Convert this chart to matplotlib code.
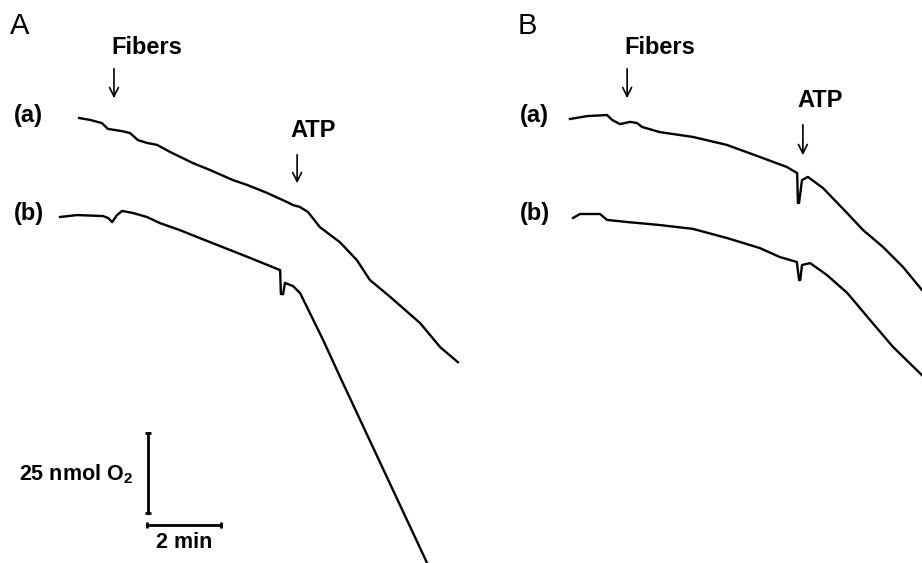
import numpy as np
import matplotlib.pyplot as plt

plt.rcParams['font.family'] = ['Liberation Sans', 'DejaVu Sans']

# oxygen traces: time since start of trace (min), O2 change from start (nmol)
a_time_A = [0, 0.30, 0.62, 0.70, 0.78, 1.16, 1.38, 1.59, 1.84, 2.11, 2.46, 3.08,
            3.54, 4.16, 4.54, 5.08, 5.62, 5.78, 5.97, 6.19, 6.51, 7.05, 7.51,
            7.86, 8.41, 9.22, 9.76, 10.24]
a_o2_A = [0, -0.6, -1.6, -2.5, -3.4, -4.1, -4.7, -6.9, -7.8, -8.4, -10.6, -14.1,
          -16.25, -19.4, -20.9, -23.4, -26.25, -27.2, -27.8, -29.4, -34.1, -38.8,
          -44.4, -50.6, -55.9, -64.1, -71.6, -76.3]

b_time_A = [0, 0.46, 1.16, 1.30, 1.41, 1.54, 1.68, 1.97, 2.35, 2.70, 3.24, 3.78,
            5.14, 5.95, 5.97, 6.03, 6.08, 6.30, 6.49, 7.11, 7.57, 9.92]
b_o2_A = [0, 0.6, 0.3, -0.3, -1.6, 0.6, 1.9, 1.25, 0, -1.9, -4.1, -6.6,
          -12.8, -16.6, -24.1, -24.1, -20.6, -21.6, -23.8, -38.4, -50.0, -108.1]

a_time_B = [0, 0.46, 1.0, 1.14, 1.35, 1.62, 1.81, 1.95, 2.43, 3.32, 4.24, 5.14,
            5.86, 6.14, 6.16, 6.19, 6.27, 6.43, 6.84, 7.49, 7.92, 8.46, 9.0, 9.51]
a_o2_B = [0, 0.9, 1.25, -0.3, -1.6, -0.9, -1.25, -2.5, -4.1, -5.6, -8.1, -11.9,
          -15.0, -16.9, -26.25, -26.25, -19.1, -18.1, -21.6, -29.4, -34.7, -40.0,
          -46.25, -53.4]

b_time_B = [0, 0.19, 0.73, 0.92, 1.46, 2.35, 3.24, 4.16, 5.05, 5.59, 6.05, 6.11,
            6.14, 6.19, 6.41, 6.86, 7.41, 8.03, 8.65, 9.43]
b_o2_B = [0, 1.25, 1.25, -0.6, -1.25, -2.2, -3.4, -6.25, -9.4, -12.2, -13.75,
          -19.4, -19.4, -14.7, -14.1, -17.8, -23.4, -31.9, -40.3, -49.1]

panel_labels = ["A", "B"]
trace_labels = ["(a)", "(b)"]
scale_o2 = 25   # nmol
scale_time = 2  # min

W, H = 922, 563
px_min = 37.0   # pixels per minute
px_nmol = 3.2   # pixels per nmol

fig = plt.figure(figsize=(W / 100, H / 100), dpi=100)

def make_panel(left):
    ax = fig.add_axes([left / W, 0, 461 / W, 1])
    ax.set_xlim(0, 461 / px_min)
    ax.set_ylim(0, H / px_nmol)
    ax.axis('off')
    return ax

def y_of(py):
    return (H - py) / px_nmol

axA = make_panel(0)
axB = make_panel(461)

panels = [
    (axA, (a_time_A, a_o2_A, 79 / px_min, y_of(118)),
          (b_time_A, b_o2_A, 60 / px_min, y_of(217)),
     3.08, (0.27, 0.38)),
    (axB, (a_time_B, a_o2_B, 109 / px_min, y_of(119)),
          (b_time_B, b_o2_B, 112 / px_min, y_of(218)),
     4.49, (1.54, 1.59)),
]

lab_font = dict(fontsize=17, fontweight='bold')
arrow_kw = dict(arrowstyle='->', color='black', lw=1.2, mutation_scale=16)

for i, (ax, tr_a, tr_b, fib_x, (px_lab, px_tr)) in enumerate(panels):
    for t, o, x0, y0 in (tr_a, tr_b):
        ax.plot(np.array(t) + x0, np.array(o) + y0, color='black', lw=1.7,
                solid_joinstyle='round')
    ax.text(px_lab, y_of(26), panel_labels[i], fontsize=21, ha='left', va='center')
    ax.text(px_tr, y_of(115), trace_labels[0], ha='left', va='center', **lab_font)
    ax.text(px_tr, y_of(213), trace_labels[1], ha='left', va='center', **lab_font)

    # Fibers arrow
    ax.annotate('', xy=(fib_x, y_of(101)), xytext=(fib_x, y_of(66)), arrowprops=arrow_kw)
    ax.text(fib_x + 0.88, y_of(47), 'Fibers', ha='center', va='center', **lab_font)

# ATP arrows
axA.annotate('', xy=(8.03, y_of(186)), xytext=(8.03, y_of(152)), arrowprops=arrow_kw)
axA.text(8.46, y_of(130), 'ATP', ha='center', va='center', **lab_font)
axB.annotate('', xy=(9.24, y_of(158)), xytext=(9.24, y_of(122)), arrowprops=arrow_kw)
axB.text(9.70, y_of(100), 'ATP', ha='center', va='center', **lab_font)

# scale bars
sx, sy = 148 / px_min, y_of(513)
axA.plot([sx, sx], [sy, sy + scale_o2], color='black', lw=2,
         marker='_', markersize=5, markeredgewidth=2)
hy = y_of(525)
axA.plot([147 / px_min, 147 / px_min + scale_time], [hy, hy], color='black', lw=2,
         marker='|', markersize=5, markeredgewidth=2)
axA.text(133 / px_min, sy + scale_o2 / 2 - 0.5, r'25 nmol O$_\mathregular{2}$',
         ha='right', va='center', fontsize=15.5, fontweight='bold')
axA.text(147 / px_min + scale_time / 2, y_of(542), '2 min',
         ha='center', va='center', fontsize=15.5, fontweight='bold')

fig.savefig('out.png', dpi=100)
